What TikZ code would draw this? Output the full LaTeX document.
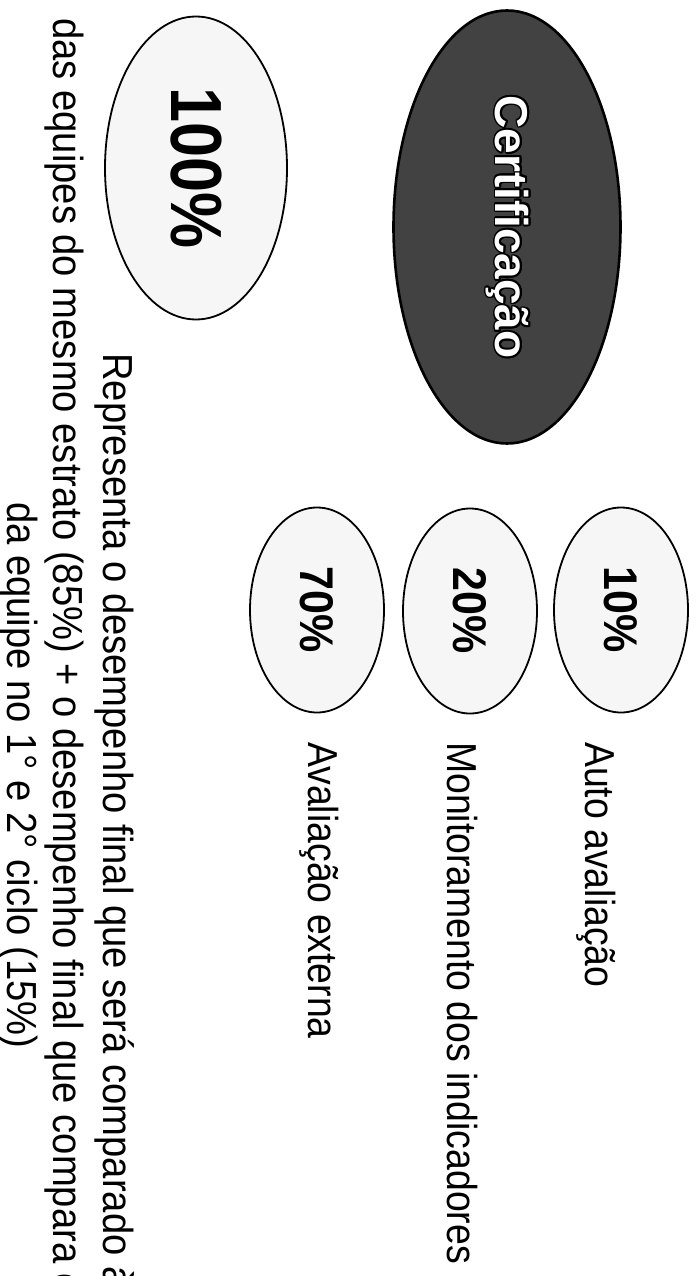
\documentclass[tikz,border=0pt]{standalone}
\usepackage{fontspec}
\setmainfont{Liberation Sans}
\usepackage{contour}
\contourlength{1.6pt}
\usetikzlibrary{shapes.geometric}
\tikzset{
  oval/.style={ellipse, draw=black, line width=1.8pt, fill=gray!7, rotate=-90, inner sep=0pt},
  pcttext/.style={font=\fontsize{43}{50}\bfseries\selectfont},
  lbl/.style={rotate=-90, anchor=base west, inner sep=0pt, font=\fontsize{37.4}{45}\selectfont},
  desc/.style={lbl, font=\fontsize{38.2}{45}\selectfont}
}
\begin{document}
\begin{tikzpicture}[x=1pt,y=-1pt]
\clip (0,0) rectangle (698,1276);
\fill[white] (0,0) rectangle (698,1276);
% big ellipses
\node[oval, fill=black!74, line width=2.6pt, minimum width=433pt, minimum height=227pt,
      font=\fontsize{46}{52}\bfseries\selectfont] (cert) at (507,227)
      {\contour{black}{\color{white}Certificação}};
\node[oval, minimum width=303pt, minimum height=182pt,
      font=\fontsize{63}{70}\bfseries\selectfont] (cem) at (196,168)
      {\scalebox{1}[1.15]{100\%}};
% small ellipses
\node[oval, pcttext, minimum width=205pt, minimum height=134pt] (p10) at (621,610) {\scalebox{1}[1.1]{10\%}};
\node[oval, pcttext, minimum width=205pt, minimum height=134pt] (p20) at (470,611) {\scalebox{1}[1.1]{20\%}};
\node[oval, pcttext, minimum width=205pt, minimum height=134pt] (p70) at (317,610) {\scalebox{1}[1.1]{70\%}};
% labels
\node[lbl] (l10) at (585,742) {\scalebox{1}[1.12]{Auto avaliação}};
\node[lbl] (l20) at (447,742) {\scalebox{1}[1.12]{Monitoramento dos indicadores}};
\node[lbl] (l70) at (308,742) {\scalebox{1}[1.12]{Avaliação externa}};
% description
\node[desc] (d1) at (103,353) {\scalebox{1}[1.1]{Representa o desempenho final que será comparado à}};
\node[desc] (d2) at (53,18) {\scalebox{1}[1.1]{das equipes do mesmo estrato (85\%) + o desempenho final que compara o}};
\node[desc] (d3) at (7,502) {\scalebox{1}[1.1]{da equipe no 1° e 2° ciclo (15\%)}};
\end{tikzpicture}
\end{document}
